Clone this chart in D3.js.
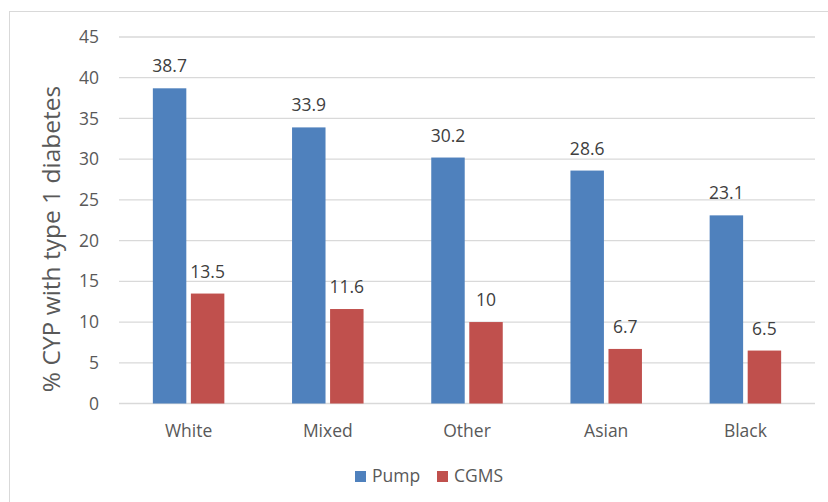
<!DOCTYPE html>
<html><head><meta charset="utf-8">
<script src="https://cdn.jsdelivr.net/npm/d3@7"></script>
<style>body{margin:0;background:#fff}svg{display:block}</style>
</head><body>
<script>
const categories = ["White","Mixed","Other","Asian","Black"];
const seriesNames = ["Pump","CGMS"];
const pumpValues = [38.7,33.9,30.2,28.6,23.1];
const cgmsValues = [13.5,11.6,10,6.7,6.5];
const yTicks = [0,5,10,15,20,25,30,35,40,45];
const colors = ["#4F81BD","#C0504D"];

(function(){
const W=828,H=502;
const svg=d3.select("body").append("svg").attr("width",W).attr("height",H);
const font="'Open Sans', 'Liberation Sans', sans-serif";
const fs=17.5;
svg.append("rect").attr("x",9.5).attr("y",11.5).attr("width",W).attr("height",H).attr("fill","#fff").attr("stroke","#d9d9d9");

const pL=119,pR=815,pT=37,pB=403.5;
const x=d3.scaleBand().domain(categories).range([pL,pR]);
const y=d3.scaleLinear().domain([0,45]).range([pB,pT]);
const inner=d3.scaleBand().domain(seriesNames).range([0,71.5]).paddingInner(0.12);

const g=svg.append("g");
g.selectAll("line.grid").data(yTicks).join("line")
 .attr("x1",pL).attr("x2",pR).attr("y1",d=>y(d)).attr("y2",d=>y(d))
 .attr("stroke","#d9d9d9").attr("stroke-width",1.3);

const yAxis=d3.axisLeft(y).tickValues(yTicks).tickSize(0).tickPadding(0);
const ya=g.append("g").attr("transform",`translate(${99},0)`).call(yAxis);
ya.select(".domain").remove();
ya.selectAll("text").attr("font-family",font).attr("font-size",fs).attr("fill","#595959");

const data=categories.map((c,i)=>({c,vals:[pumpValues[i],cgmsValues[i]]}));
const groups=g.selectAll("g.cat").data(data).join("g")
 .attr("transform",d=>`translate(${x(d.c)+x.bandwidth()/2-35.75},0)`);
groups.selectAll("rect").data(d=>d.vals.map((v,j)=>({v,s:seriesNames[j],j}))).join("rect")
 .attr("x",d=>inner(d.s)).attr("width",inner.bandwidth())
 .attr("y",d=>y(d.v)).attr("height",d=>y(0)-y(d.v)).attr("fill",d=>colors[d.j]);
groups.selectAll("text").data(d=>d.vals.map((v,j)=>({v,s:seriesNames[j],j}))).join("text")
 .attr("x",d=>inner(d.s)+inner.bandwidth()/2).attr("y",d=>y(d.v)-16)
 .attr("text-anchor","middle").attr("font-family",font).attr("font-size",fs).attr("fill","#404040")
 .text(d=>d.v);

const xa=g.append("g").attr("transform",`translate(0,${pB})`).call(d3.axisBottom(x).tickSize(0).tickPadding(21));
xa.select(".domain").remove();
xa.selectAll("text").attr("font-family",font).attr("font-size",fs).attr("fill","#595959");

svg.append("text").attr("transform",`translate(60,239) rotate(-90)`)
 .attr("text-anchor","middle").attr("font-family",font).attr("font-size",24.5).attr("fill","#595959")
 .text("% CYP with type 1 diabetes");

const leg=svg.append("g");
const legX=[355,437];
seriesNames.forEach((s,i)=>{
  leg.append("rect").attr("x",legX[i]).attr("y",471).attr("width",11).attr("height",11).attr("fill",colors[i]);
  leg.append("text").attr("x",legX[i]+17).attr("y",482).attr("font-family",font).attr("font-size",fs).attr("fill","#595959").text(s);
});
})();
</script>
</body></html>
